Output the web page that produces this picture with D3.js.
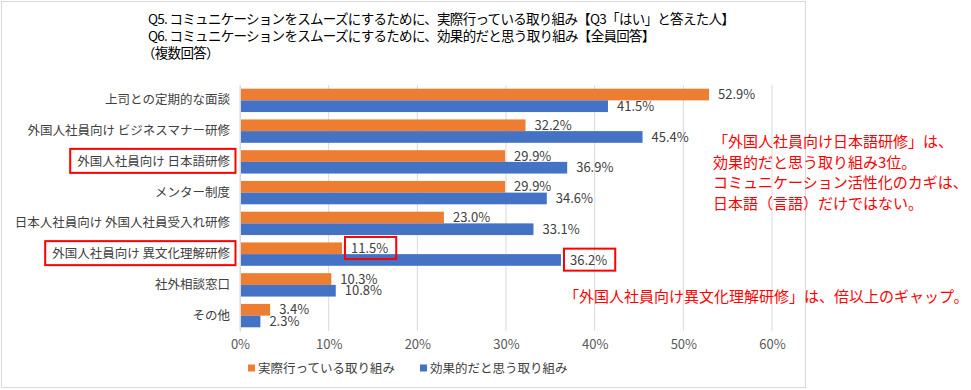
<!DOCTYPE html>
<html>
<head>
<meta charset="utf-8">
<script src="https://cdn.jsdelivr.net/npm/d3@7"></script>
<style>
  body { margin: 0; background: #fff; }
  text { font-family: "Noto Sans CJK JP", "Noto Sans", sans-serif; }
</style>
</head>
<body>
<div id="chart"></div>
<script>
// data
var categories = ["上司との定期的な面談", "外国人社員向け ビジネスマナー研修", "外国人社員向け 日本語研修",
  "メンター制度", "日本人社員向け 外国人社員受入れ研修", "外国人社員向け 異文化理解研修", "社外相談窓口", "その他"];
var actualValues = [52.9, 32.2, 29.9, 29.9, 23.0, 11.5, 10.3, 3.4];
var effectiveValues = [41.5, 45.4, 36.9, 34.6, 33.1, 36.2, 10.8, 2.3];
var seriesNames = ["実際行っている取り組み", "効果的だと思う取り組み"];
var xTicks = [0, 10, 20, 30, 40, 50, 60];
var titleLines = ["Q5. コミュニケーションをスムーズにするために、実際行っている取り組み【Q3「はい」と答えた人】",
  "Q6. コミュニケーションをスムーズにするために、効果的だと思う取り組み【全員回答】",
  "（複数回答）"];
var note1 = ["「外国人社員向け日本語研修」は、", "効果的だと思う取り組み3位。",
  "コミュニケーション活性化のカギは、", "日本語（言語）だけではない。"];
var note2 = "「外国人社員向け異文化理解研修」は、倍以上のギャップ。";
var highlighted = ["外国人社員向け 日本語研修", "外国人社員向け 異文化理解研修"];

var colors = ["#ED7D31", "#4472C4"];

var W = 971, H = 390;
var margin = {top: 85, left: 240},
    width = 772 - margin.left,
    height = 331 - margin.top;

var svg = d3.select("#chart").append("svg")
    .attr("width", W)
    .attr("height", H);

// chart frame
svg.append("rect")
    .attr("x", 1.5).attr("y", 1.5)
    .attr("width", 804).attr("height", 386)
    .attr("fill", "none").attr("stroke", "#d9d9d9");

// title
svg.append("g").selectAll("text")
  .data(titleLines)
  .enter().append("text")
    .attr("x", function(d, i) { return i == 2 ? 142 : 148; })
    .attr("y", function(d, i) { return 24 + i * 17; })
    .attr("font-size", 13.5)
    .attr("letter-spacing", -0.7)
    .attr("fill", "#000")
    .text(function(d) { return d; });

var g = svg.append("g")
    .attr("transform", "translate(" + margin.left + "," + margin.top + ")");

var x = d3.scaleLinear().domain([0, 60]).range([0, width]);
var y0 = d3.scaleBand().domain(categories).range([0, height])
    .paddingInner(0.24).paddingOuter(0.12);
var y1 = d3.scaleBand().domain([0, 1]).range([0, y0.bandwidth()]);

// gridlines
g.append("g").selectAll("line")
  .data(xTicks)
  .enter().append("line")
    .attr("x1", function(d) { return x(d); })
    .attr("x2", function(d) { return x(d); })
    .attr("y1", 0).attr("y2", height)
    .attr("stroke", "#d9d9d9");

// x axis
var xAxis = g.append("g")
    .attr("transform", "translate(0," + height + ")")
    .call(d3.axisBottom(x).tickValues(xTicks).tickSize(0).tickPadding(9)
      .tickFormat(function(d) { return d + "%"; }));
xAxis.select(".domain").remove();
xAxis.selectAll("text").attr("font-size", 13).attr("fill", "#595959")
    .style("font-family", "'Noto Sans CJK JP', sans-serif");

// bars
var rows = categories.map(function(c, i) {
  return {cat: c, vals: [actualValues[i], effectiveValues[i]]};
});
var groups = g.append("g").selectAll("g")
  .data(rows)
  .enter().append("g")
    .attr("transform", function(d) { return "translate(0," + y0(d.cat) + ")"; });

groups.selectAll("rect")
  .data(function(d) { return d.vals; })
  .enter().append("rect")
    .attr("x", 0)
    .attr("y", function(d, i) { return y1(i); })
    .attr("width", function(d) { return x(d); })
    .attr("height", y1.bandwidth())
    .attr("fill", function(d, i) { return colors[i]; });

groups.selectAll("text.val")
  .data(function(d) { return d.vals.map(function(v, i) { return {v: v, i: i, cat: d.cat}; }); })
  .enter().append("text")
    .attr("class", "val")
    .attr("x", function(d) { return x(d.v) + 9; })
    .attr("y", function(d) { return y1(d.i) + y1.bandwidth() / 2; })
    .attr("dy", "0.36em")
    .attr("font-size", 13)
    .attr("fill", "#404040")
    .text(function(d) { return d.v.toFixed(1) + "%"; });

// y axis
var yAxis = g.append("g")
    .call(d3.axisLeft(y0).tickSize(0).tickPadding(10));
yAxis.select(".domain").attr("stroke", "#d9d9d9");
yAxis.selectAll("text").attr("font-size", 12.5).attr("fill", "#404040")
    .style("font-family", "'Noto Sans CJK JP', sans-serif");

// red boxes around highlighted category labels
yAxis.selectAll(".tick").each(function(d) {
  if (highlighted.indexOf(d) < 0) return;
  var bb = d3.select(this).select("text").node().getBBox();
  d3.select(this).append("rect")
    .attr("x", bb.x - 7).attr("y", bb.y - 2)
    .attr("width", bb.width + 12).attr("height", bb.height + 5)
    .attr("fill", "none").attr("stroke", "#ff0000").attr("stroke-width", 2);
});

// red boxes around the gap values
groups.filter(function(d) { return d.cat === highlighted[1]; })
  .selectAll("text.val").each(function() {
    var bb = this.getBBox();
    d3.select(this.parentNode).append("rect")
      .attr("x", bb.x - 6).attr("y", bb.y - 1)
      .attr("width", bb.width + 14).attr("height", bb.height + 3)
      .attr("fill", "none").attr("stroke", "#ff0000").attr("stroke-width", 2);
  });

// annotations
svg.append("g").selectAll("text")
  .data(note1)
  .enter().append("text")
    .attr("x", 713)
    .attr("y", function(d, i) { return 147 + i * 20.7; })
    .attr("font-size", 15)
    .attr("fill", "#ff0000")
    .text(function(d) { return d; });

svg.append("text")
    .attr("x", 564).attr("y", 302)
    .attr("font-size", 15)
    .attr("fill", "#ff0000")
    .text(note2);

// legend
var legend = svg.append("g").attr("transform", "translate(248,368)");
var items = legend.selectAll("g")
  .data(seriesNames)
  .enter().append("g")
    .attr("transform", function(d, i) { return "translate(" + (i * 172) + ",0)"; });
items.append("rect")
    .attr("x", 0).attr("y", -3.5)
    .attr("width", 7).attr("height", 7)
    .attr("fill", function(d, i) { return colors[i]; });
items.append("text")
    .attr("x", 10).attr("dy", "0.36em")
    .attr("font-size", 12.5)
    .attr("fill", "#404040")
    .text(function(d) { return d; });
</script>
</body>
</html>
